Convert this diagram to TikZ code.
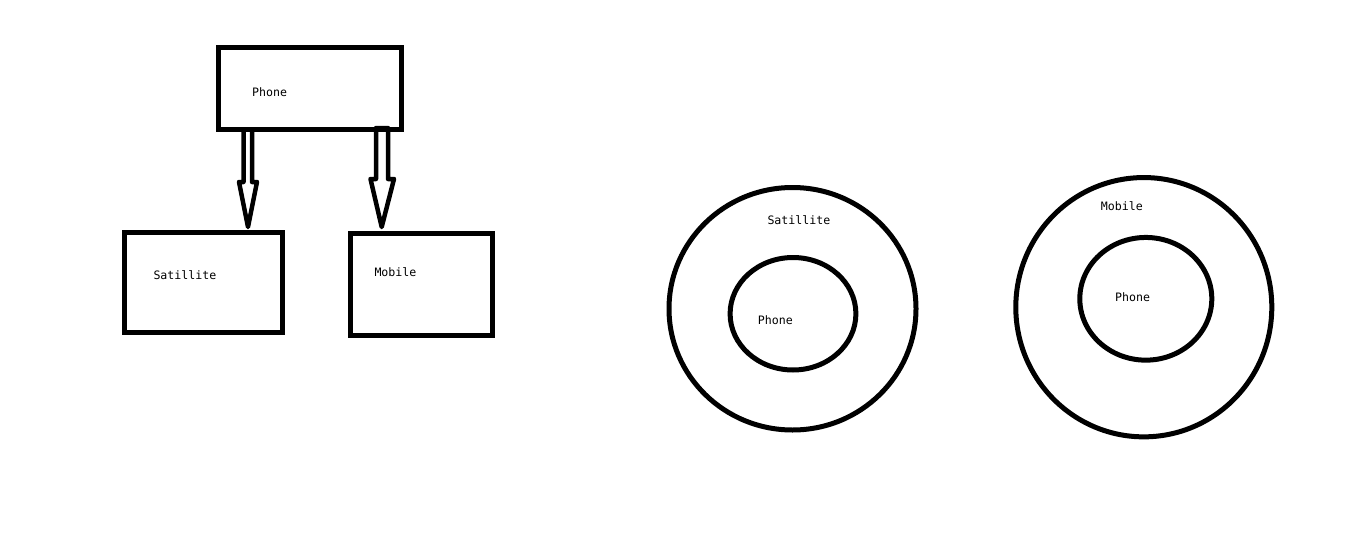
\documentclass[tikz,border=0pt]{standalone}
\usepackage{fontspec}
\setmonofont{DejaVu Sans Mono}
\usetikzlibrary{shapes.geometric}
\begin{document}
\begin{tikzpicture}[x=1pt,y=-1pt,
  thick line/.style={line width=5pt},
  boxnode/.style={draw,thick line,rectangle,inner sep=0pt},
  ringnode/.style={draw,thick line,ellipse,inner sep=0pt},
  lbl/.style={anchor=west,inner sep=0pt,font=\fontsize{11.6}{12}\ttfamily},
  blockarrow/.style={draw,line width=4.5pt,line join=round}]
\useasboundingbox[fill=white] (0,0) rectangle (1360,546);
% boxes
\node[boxnode,minimum width=182.5pt,minimum height=82.5pt] (phone) at (309.75,88.25) {};
\node[boxnode,minimum width=158pt,minimum height=100.3pt] (sat) at (203,282.15) {};
\node[boxnode,minimum width=141.5pt,minimum height=102.5pt] (mob) at (421.25,284.25) {};
\node[lbl] (phonet) at (252,92) {Phone};
\node[lbl] (satt) at (153.3,275) {Satillite};
\node[lbl] (mobt) at (374.3,272) {Mobile};
% block arrows
\draw[blockarrow] (243.5,129.5) -- (243.5,182) -- (239,182) -- (248,227) -- (257,182) -- (252,182) -- (252,129.5);
\draw[blockarrow] (376,128) -- (376,179) -- (370.5,179) -- (381.7,227) -- (394,179) -- (388,179) -- (388,128) -- cycle;
% rings
\node[ringnode,minimum width=247pt,minimum height=242.5pt] (souter) at (792.5,308.75) {};
\node[ringnode,minimum width=125.8pt,minimum height=112.5pt] (sinner) at (793,313.75) {};
\node[lbl] (soutert) at (767.3,220) {Satillite};
\node[lbl] (sinnert) at (757.7,320) {Phone};
\node[ringnode,minimum width=256pt,minimum height=259.3pt] (mouter) at (1143.8,307.2) {};
\node[ringnode,minimum width=132pt,minimum height=122.7pt] (minner) at (1145.8,298.8) {};
\node[lbl] (moutert) at (1100.7,205.7) {Mobile};
\node[lbl] (minnert) at (1115,297.3) {Phone};
\end{tikzpicture}
\end{document}
